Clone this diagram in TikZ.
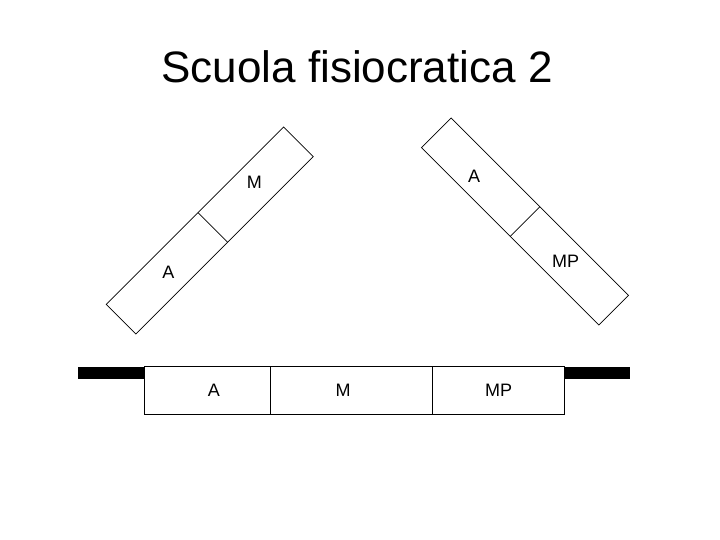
\documentclass[tikz,border=0pt]{standalone}
\usepackage{fontspec}
\setmainfont{Liberation Sans}
\usetikzlibrary{positioning,calc}
\tikzset{
    cell/.style={rectangle, draw, line width=1pt, minimum height=47.6pt,
                 inner sep=0pt, outer sep=0pt},
    bar/.style={rectangle, draw, line width=0.7pt, minimum width=251pt,
                minimum height=42pt, inner sep=0pt, outer sep=0pt},
    flange/.style={rectangle, fill=black, minimum width=66pt,
                   minimum height=12.3pt, inner sep=0pt, outer sep=0pt},
    lbl/.style={font=\fontsize{18}{18}\selectfont, inner sep=0pt},
    ttl/.style={font=\fontsize{44}{44}\selectfont, inner sep=0pt},
}

\begin{document}
\begin{tikzpicture}[x=1pt,y=-1pt]
    \useasboundingbox (0,0) rectangle (720,540);
    \node[ttl, anchor=base] (title) at (357,83) {Scuola fisiocratica 2};

    % the two tilted bars
    \node[bar, rotate=45] (lbar) at (209.75,230.5) {};
    \draw[line width=0.7pt] ($(lbar.north)!0.035!(lbar.north east)$)
        -- ($(lbar.south)!0.035!(lbar.south east)$);
    \node[lbl] (lA) at (168.3,272.7) {A};
    \node[lbl] (lM) at (254.3,182.7) {M};

    \node[bar, rotate=-45] (rbar) at (525,221.5) {};
    \draw[line width=0.7pt] (rbar.north) -- (rbar.south);
    \node[lbl] (rA) at (474,176.7) {A};
    \node[lbl] (rMP) at (565.7,261.7) {MP};

    % the base
    \node[cell, minimum width=126.7pt] (cA) at (207.35,390.5) {};
    \node[cell, minimum width=162pt, right=0pt of cA] (cM) {};
    \node[cell, minimum width=131.6pt, right=0pt of cM] (cMP) {};
    \node[flange, anchor=north east] (fl) at (cA.north west) {};
    \node[flange, anchor=north west] (fr) at (cMP.north east) {};
    \node[lbl] (tA) at ([xshift=6.6pt]cA.center) {A};
    \node[lbl] (tM) at ([xshift=-8.7pt]cM.center) {M};
    \node[lbl] (tMP) at (cMP.center) {MP};
\end{tikzpicture}
\end{document}
